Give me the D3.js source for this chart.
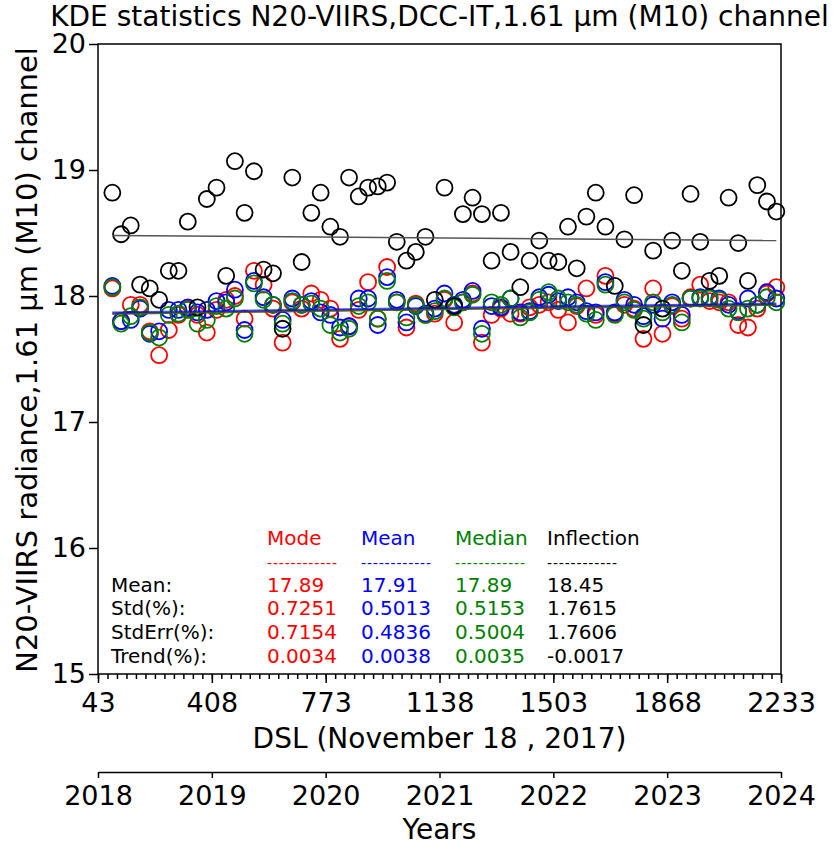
<!DOCTYPE html>
<html>
<head>
<meta charset="utf-8">
<script src="https://cdn.jsdelivr.net/npm/d3@7"></script>
<style>
  body { margin: 0; background: #fff; }
  text { font-family: "DejaVu Sans", sans-serif; }
</style>
</head>
<body>
<div id="chart"></div>
<script>
// days since launch (mid-month samples)
const dsl = [89,117,148,178,209,239,270,301,331,362,392,
  423,454,482,513,543,574,604,635,666,696,727,757,
  788,819,848,879,909,940,970,1001,1032,1062,1093,1123,
  1154,1185,1213,1244,1274,1305,1335,1366,1397,1427,1458,1488,
  1519,1550,1578,1609,1639,1670,1700,1731,1762,1792,1823,1853,
  1884,1915,1943,1974,2004,2035,2065,2096,2127,2157,2188,2218];

const modeVals = [18.06,17.80,17.93,17.93,17.72,17.53,17.73,17.85,17.90,17.85,17.71,
  17.89,17.97,18.00,17.82,18.20,18.09,17.90,17.63,17.95,17.90,18.02,17.97,
  17.90,17.66,17.76,17.89,18.11,17.82,18.23,17.95,17.75,17.94,17.85,17.86,
  17.97,17.79,17.95,18.02,17.63,17.85,17.90,17.86,17.86,17.91,17.93,17.95,
  17.89,17.79,17.92,18.06,17.85,18.16,17.86,17.93,17.90,17.66,18.06,17.70,
  17.92,17.82,17.99,18.09,17.96,17.95,17.95,17.77,17.75,17.90,18.02,18.07];

const meanVals = [18.08,17.80,17.81,17.90,17.70,17.72,17.89,17.89,17.91,17.87,17.89,
  17.96,17.95,18.05,17.73,18.12,17.99,17.93,17.81,17.98,17.93,17.96,17.87,
  17.85,17.75,17.76,17.98,17.98,17.77,18.15,17.97,17.79,17.92,17.86,17.90,
  18.02,17.93,17.97,18.04,17.74,17.92,17.91,17.98,17.87,17.88,17.99,18.01,
  17.96,17.99,17.95,17.88,17.87,18.11,17.87,17.97,17.93,17.84,17.93,17.82,
  17.95,17.85,17.98,17.99,17.99,17.98,17.93,17.88,17.98,17.93,18.03,17.98];

const medianVals = [18.07,17.78,17.84,17.91,17.71,17.67,17.85,17.86,17.89,17.78,17.81,
  17.92,17.90,17.98,17.70,18.10,17.97,17.93,17.78,17.96,17.93,17.94,17.90,
  17.77,17.71,17.74,17.92,17.95,17.82,18.12,17.95,17.83,17.93,17.85,17.88,
  17.98,17.91,17.95,18.01,17.70,17.95,17.93,17.98,17.83,17.87,17.97,18.03,
  17.98,17.95,17.93,17.86,17.81,18.09,17.85,17.95,17.89,17.82,17.95,17.87,
  17.93,17.79,17.98,17.98,17.98,17.97,17.90,17.87,17.90,17.93,17.99,17.95];

const inflVals = [18.82,18.49,18.56,18.09,18.06,17.97,18.20,18.20,18.59,17.91,18.77,
  18.86,18.16,19.07,18.66,18.99,18.21,18.18,17.74,18.94,18.27,18.66,18.82,
  18.55,18.47,18.94,18.79,18.86,18.87,18.90,18.43,18.28,18.35,18.47,17.97,
  18.86,17.92,18.65,18.78,18.65,18.28,18.66,18.35,18.07,18.28,18.44,18.28,
  18.27,18.55,18.22,18.63,18.82,18.55,18.08,18.45,18.80,17.77,18.36,17.90,
  18.44,18.20,18.81,18.43,18.12,18.16,18.78,18.42,18.12,18.88,18.75,18.67];

// linear trend, value at first and last sample
const trendStart = [17.86, 17.87, 17.86, 18.48];
const trendEnd = [17.93, 17.94, 17.93, 18.44];

const seriesNames = ["Mode", "Mean", "Median", "Inflection"];
const seriesColors = ["#ff0000", "#0000ff", "#008000", "#000000"];
const statLabels = ["Mean:", "Std(%):", "StdErr(%):", "Trend(%):"];
const statValues = [
  ["17.89", "0.7251", "0.7154", "0.0034"],
  ["17.91", "0.5013", "0.4836", "0.0038"],
  ["17.89", "0.5153", "0.5004", "0.0035"],
  ["18.45", "1.7615", "1.7606", "-0.0017"]
];

const xTicks = [43, 408, 773, 1138, 1503, 1868, 2233];
const yTicks = [15, 16, 17, 18, 19, 20];
const yearTicks = [2018, 2019, 2020, 2021, 2022, 2023, 2024];

// canvas
const width = 838, height = 846;
const plotL = 98, plotR = 781, plotT = 44, plotB = 674;

const svg = d3.select("#chart").append("svg")
    .attr("width", width)
    .attr("height", height);

const x = d3.scaleLinear().domain([43, 2233]).range([plotL, plotR]);
const y = d3.scaleLinear().domain([15, 20]).range([plotB, plotT]);
const yearX = d3.scaleLinear().domain([2018, 2024]).range([plotL, plotR]);

// minor ticks, 12 per year
const minorTicks = d3.range(0, 73).map(i => 43 + i * 365 / 12);

svg.append("g")
    .attr("transform", `translate(0,${plotB})`)
    .call(d3.axisBottom(x).tickValues(minorTicks).tickSize(5).tickFormat(""))
    .call(g => g.select(".domain").remove());

svg.append("g")
    .attr("transform", `translate(0,${plotB})`)
    .call(d3.axisBottom(x).tickValues(xTicks).tickSize(9).tickPadding(10).tickFormat(d3.format("d")))
    .call(g => g.select(".domain").remove())
    .call(g => g.selectAll("text").style("font-size", "27px").attr("fill", "#000"));

svg.append("g")
    .attr("transform", `translate(${plotL},0)`)
    .call(d3.axisLeft(y).tickValues(yTicks).tickSize(9).tickPadding(3).tickFormat(d3.format("d")))
    .call(g => g.select(".domain").remove())
    .call(g => g.selectAll("text").style("font-size", "27px").attr("fill", "#000"));

svg.selectAll(".tick line").attr("stroke", "#000").attr("stroke-width", 1.5);

// frame
svg.append("rect")
    .attr("x", plotL).attr("y", plotT)
    .attr("width", plotR - plotL).attr("height", plotB - plotT)
    .attr("fill", "none").attr("stroke", "#000").attr("stroke-width", 1.5);

// points
const series = [modeVals, meanVals, medianVals, inflVals];
series.forEach((vals, s) => {
    svg.append("g").selectAll("circle")
        .data(vals)
        .enter().append("circle")
        .attr("cx", (d, i) => x(dsl[i]))
        .attr("cy", d => y(d))
        .attr("r", 8)
        .attr("fill", "none")
        .attr("stroke", seriesColors[s])
        .attr("stroke-width", 1.8);
});

// trend lines
const trendOrder = [0, 2, 1, 3];
trendOrder.forEach(s => {
    svg.append("line")
        .attr("x1", x(dsl[0])).attr("y1", y(trendStart[s]))
        .attr("x2", x(dsl[dsl.length - 1])).attr("y2", y(trendEnd[s]))
        .attr("stroke", s === 3 ? "#555" : seriesColors[s])
        .attr("stroke-opacity", s === 3 ? 1 : 0.7)
        .attr("stroke-width", s === 3 ? 1.5 : 2);
});

// statistics block
const colX = [267, 361, 455, 547];
const headerY = 545, dashY = 568;
const rowY = [592, 615, 639, 663];

statLabels.forEach((t, r) => {
    svg.append("text")
        .attr("x", 111).attr("y", rowY[r])
        .style("font-size", "20px")
        .text(t);
});

seriesNames.forEach((name, s) => {
    svg.append("text")
        .attr("x", colX[s]).attr("y", headerY)
        .attr("fill", seriesColors[s])
        .style("font-size", "20px")
        .text(name);
    svg.append("text")
        .attr("x", colX[s]).attr("y", dashY)
        .attr("fill", seriesColors[s])
        .style("font-size", "14px")
        .attr("textLength", 70)
        .text("------------");
    statValues[s].forEach((v, r) => {
        svg.append("text")
            .attr("x", colX[s]).attr("y", rowY[r])
            .attr("fill", seriesColors[s])
            .style("font-size", "20px")
            .text(v);
    });
});

// axis titles
svg.append("text")
    .attr("x", (plotL + plotR) / 2).attr("y", 26)
    .attr("text-anchor", "middle")
    .style("font-size", "28px")
    .text("KDE statistics N20-VIIRS,DCC-IT,1.61 µm (M10) channel");

svg.append("text")
    .attr("x", (plotL + plotR) / 2).attr("y", 748)
    .attr("text-anchor", "middle")
    .style("font-size", "28px")
    .text("DSL (November 18 , 2017)");

svg.append("text")
    .attr("transform", `translate(37,${(plotT + plotB) / 2 + 1}) rotate(-90)`)
    .attr("text-anchor", "middle")
    .style("font-size", "29px")
    .text("N20-VIIRS radiance,1.61 µm (M10) channel");

// years axis
svg.append("g")
    .attr("transform", "translate(0,772)")
    .call(d3.axisBottom(yearX).tickValues(yearTicks).tickSize(6).tickSizeOuter(0).tickPadding(8).tickFormat(d3.format("d")))
    .call(g => g.select(".domain").attr("stroke-width", 1.5))
    .call(g => g.selectAll(".tick line").attr("stroke-width", 1.5))
    .call(g => g.selectAll("text").style("font-size", "27px").attr("fill", "#000"));

svg.append("text")
    .attr("x", (plotL + plotR) / 2).attr("y", 839)
    .attr("text-anchor", "middle")
    .style("font-size", "28px")
    .text("Years");
</script>
</body>
</html>
